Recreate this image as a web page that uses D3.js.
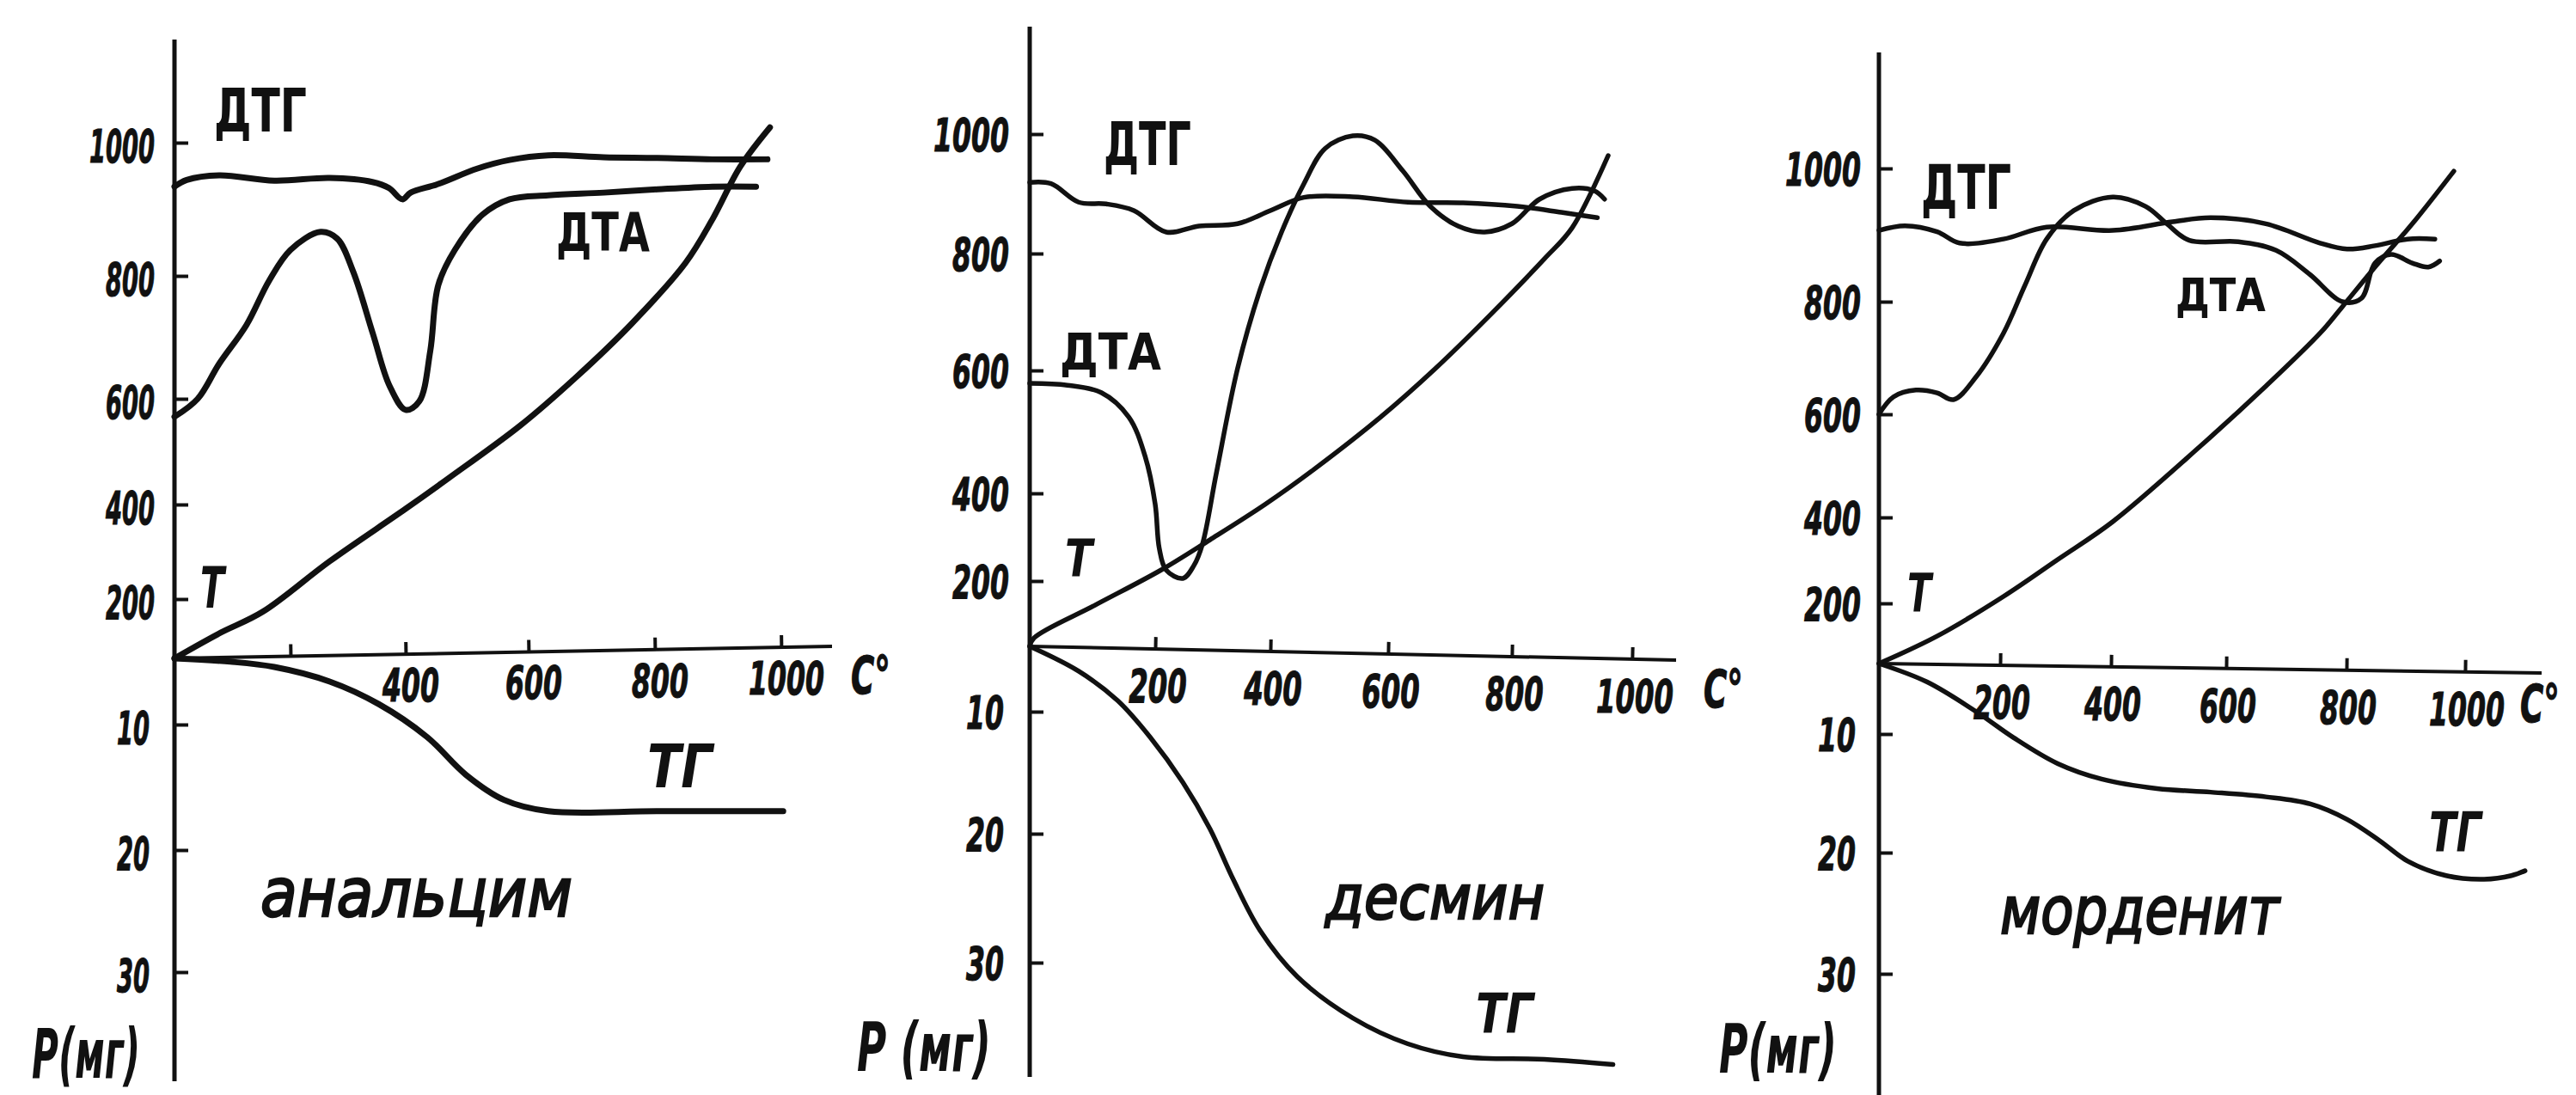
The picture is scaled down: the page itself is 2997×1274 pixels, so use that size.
<!DOCTYPE html>
<html>
<head>
<meta charset="utf-8">
<script src="https://cdn.jsdelivr.net/npm/d3@7"></script>
<style>
  body { margin: 0; background: #fff; }
  svg { display: block; }
</style>
</head>
<body>
<svg id="chart"></svg>
<script>
// tick values (the drawing's axes are hand-drawn, so the scales are piecewise)
var tempDomain = [0, 200, 400, 600, 800, 1000];
var massDomain = [0, 10, 20, 30];
var tempTicks = [200, 400, 600, 800, 1000];
var massTicks = [10, 20, 30];
var analcimeXLabels = [400, 600, 800, 1000];
var desmineXLabels = [200, 400, 600, 800, 1000];
var mordeniteXLabels = [200, 400, 600, 800, 1000];

var mineralNames = ["анальцим", "десмин", "морденит"];
var massLabels = ["Р(мг)", "Р (мг)", "Р(мг)"];

// curves: [temperature °C, value on the left axis]
var analcimeDTG = [[0,934],[21,944],[77,951],[172,943],[268,947],[342,941],[371,932],[394,915],[408,925],[453,938],[516,961],[569,974],[631,981],[719,978],[804,977],[891,975],[978,975]];
var analcimeDTA = [[0,566],[40,600],[77,657],[124,720],[163,792],[200,839],[252,866],[281,856],[309,806],[343,706],[372,621],[400,579],[422,595],[440,678],[453,785],[480,839],[525,892],[569,915],[631,921],[719,925],[804,930],[891,934],[960,934]];
var analcimeT = [[0,0],[77,84],[152,157],[268,280],[400,391],[470,450],[587,550],[675,635],[761,720],[848,819],[891,885],[935,964],[982,1023]];
var analcimeTG = [[0,0],[96,0.5],[172,1.3],[268,3.5],[353,6.9],[435,11.0],[498,14.0],[560,16.0],[631,16.9],[804,16.9],[1003,16.9]];

var desmineDTG = [[0,919],[34,917],[78,886],[122,883],[166,872],[219,836],[276,846],[343,850],[400,872],[457,894],[540,895],[632,886],[721,885],[809,879],[882,869],[942,860]];
var desmineDTA = [[0,579],[60,576],[114,564],[158,524],[184,460],[200,375],[207,275],[219,225],[248,206],[267,235],[282,284],[306,432],[343,603],[382,738],[419,836],[457,917],[493,976],[540,997],[577,990],[624,938],[668,879],[713,846],[756,836],[800,850],[846,891],[900,909],[937,905],[954,891]];
var desmineT = [[0,0],[7,26],[104,126],[210,225],[295,294],[391,375],[474,439],[587,524],[676,603],[764,694],[854,791],[900,843],[960,964]];
var desmineTG = [[0,0],[78,3.8],[140,8.3],[192,12.1],[248,15.8],[295,19.6],[334,23.4],[382,27.5],[446,31.1],[540,34.3],[632,36.3],[721,37.3],[854,37.5],[968,37.9]];

var mordeniteDTG = [[0,907],[43,914],[96,905],[133,888],[206,894],[284,912],[403,907],[507,920],[573,926],[666,917],[756,888],[801,879],[848,884],[903,894],[949,894]];
var mordeniteDTA = [[0,600],[24,631],[61,643],[96,638],[123,626],[160,666],[206,744],[245,825],[284,894],[333,937],[403,957],[460,943],[497,917],[536,892],[620,890],[683,877],[739,841],[793,800],[825,805],[848,858],[875,871],[911,858],[938,852],[957,861]];
var mordeniteT = [[0,0],[96,91],[206,216],[304,302],[403,390],[554,537],[666,650],[756,744],[793,791],[848,852],[911,917],[981,996]];
var mordeniteTG = [[0,0],[79,2.6],[160,6.8],[224,10.3],[304,12.5],[383,13.8],[480,14.6],[573,14.9],[666,15.3],[740,15.9],[801,17.2],[856,19.0],[903,20.7],[968,21.9],[1032,22.2],[1078,21.9],[1101,21.5]];

// page layout of each panel (pixels)
var layouts = [
  {
    xPx: [203,338,472,615,762,909], tPx: [766,697,587,464,321,166], mPx: [766,843,989,1131],
    top: 46, bottom: 1258, xEnd: 968, tilt: -14, curveW: 7, axisW: 5,
    yLabelRight: 180, yLabelDy: 23, digitW: 19, xLabelDx: 6, xLabelDy: 55, xDigitW: 22,
    unit: [990, 807],
    dtg: [249,153,108,70], dta: [647,292,109,62], t: [233,707,28,66], tg: [753,916,76,70],
    name: [303,1066,363,78], mass: [37,1254,126,80]
  },
  {
    xPx: [1198,1344,1478,1615,1759,1899], tPx: [752,676,574,431,295,156], mPx: [752,828,970,1120],
    top: 31, bottom: 1253, xEnd: 1950, tilt: 16, curveW: 5.5, axisW: 5,
    yLabelRight: 1174, yLabelDy: 20, digitW: 22, xLabelDx: 3, xLabelDy: 62, xDigitW: 22.5,
    unit: [1982, 823],
    dtg: [1284,192,102,70], dta: [1233,430,118,58], t: [1239,671,32,60], tg: [1717,1202,67,64],
    name: [1542,1069,255,72], mass: [997,1246,156,78]
  },
  {
    xPx: [2186,2327,2456,2590,2730,2868], tPx: [772,702,602,482,351,196], mPx: [772,854,992,1133],
    top: 61, bottom: 1274, xEnd: 2957, tilt: 11, curveW: 5.5, axisW: 5,
    yLabelRight: 2165, yLabelDy: 20, digitW: 22, xLabelDx: 2, xLabelDy: 62, xDigitW: 22,
    unit: [2932, 840],
    dtg: [2235,243,105,72], dta: [2531,362,105,54], t: [2219,712,28,62], tg: [2826,991,61,64],
    name: [2327,1086,325,76], mass: [2000,1248,137,78]
  }
];

var panels = [
  { dtg: analcimeDTG, dta: analcimeDTA, t: analcimeT, tg: analcimeTG, xLabels: analcimeXLabels },
  { dtg: desmineDTG, dta: desmineDTA, t: desmineT, tg: desmineTG, xLabels: desmineXLabels },
  { dtg: mordeniteDTG, dta: mordeniteDTA, t: mordeniteT, tg: mordeniteTG, xLabels: mordeniteXLabels }
];

var W = 2997, H = 1274, ink = "#111";
var fontStack = "'DejaVu Sans', 'Liberation Sans', sans-serif";

var svg = d3.select("#chart").attr("width", W).attr("height", H);
svg.append("rect").attr("width", W).attr("height", H).attr("fill", "#fff");

// text squeezed to a measured width, like the narrow drafting letters of the original
function putText(g, str, x, y, size, width, bold, italic, thicken) {
  return g.append("text")
    .attr("x", x).attr("y", y)
    .attr("font-family", fontStack)
    .attr("font-size", size)
    .attr("font-weight", bold ? "bold" : "normal")
    .attr("font-style", italic ? "italic" : "normal")
    .attr("fill", ink)
    .attr("stroke", thicken ? ink : "none")
    .attr("stroke-width", thicken || 0)
    .attr("textLength", width)
    .attr("lengthAdjust", "spacingAndGlyphs")
    .text(str);
}

panels.forEach(function(p, i) {
  var L = layouts[i];
  var g = svg.append("g");

  var x = d3.scaleLinear().domain(tempDomain).range(L.xPx);
  var yT = d3.scaleLinear().domain(tempDomain).range(L.tPx);
  var yM = d3.scaleLinear().domain(massDomain).range(L.mPx);
  var x0 = x(0), y0 = yT(0);

  // vertical axis
  g.append("line")
    .attr("x1", x0).attr("x2", x0).attr("y1", L.top).attr("y2", L.bottom)
    .attr("stroke", ink).attr("stroke-width", L.axisW);

  g.append("g").attr("transform", "translate(" + x0 + ",0)")
    .call(d3.axisRight(yT).tickValues(tempTicks).tickSize(16).tickFormat(""))
    .call(function(a) { a.select(".domain").remove(); a.selectAll("line").attr("stroke", ink).attr("stroke-width", 4); });

  g.append("g").attr("transform", "translate(" + x0 + ",0)")
    .call(d3.axisRight(yM).tickValues(massTicks).tickSize(16).tickFormat(""))
    .call(function(a) { a.select(".domain").remove(); a.selectAll("line").attr("stroke", ink).attr("stroke-width", 4); });

  tempTicks.forEach(function(v) {
    var s = String(v), w = s.length * L.digitW;
    putText(g, s, L.yLabelRight - w, yT(v) + L.yLabelDy, 54, w, true, true, 1.2);
  });
  massTicks.forEach(function(v) {
    var s = String(v), w = s.length * L.digitW;
    putText(g, s, L.yLabelRight - w - 6, yM(v) + L.yLabelDy, 54, w, true, true, 1.2);
  });

  // horizontal axis, slightly tilted as in the scan
  var dx = L.xEnd - x0;
  var ang = Math.atan2(L.tilt, dx) * 180 / Math.PI;
  var xa = g.append("g").attr("transform", "rotate(" + ang + "," + x0 + "," + y0 + ") translate(0," + y0 + ")");
  xa.append("line").attr("x1", x0).attr("x2", x0 + Math.hypot(dx, L.tilt)).attr("y1", 0).attr("y2", 0)
    .attr("stroke", ink).attr("stroke-width", L.axisW);
  xa.call(d3.axisTop(x).tickValues(tempTicks).tickSize(14).tickFormat(""))
    .call(function(a) { a.select(".domain").remove(); a.selectAll("line").attr("stroke", ink).attr("stroke-width", 4); });

  p.xLabels.forEach(function(v) {
    var s = String(v), w = s.length * L.xDigitW;
    var cx = x(v) + L.xLabelDx;
    var ly = y0 + L.tilt * (x(v) - x0) / dx + L.xLabelDy;
    putText(g, s, cx - w / 2, ly, 54, w, true, true, 1.2);
  });

  // unit "C°", narrowed with a transform instead of textLength
  g.append("text")
    .attr("transform", "translate(" + L.unit[0] + "," + L.unit[1] + ") scale(0.62,1)")
    .attr("font-family", fontStack).attr("font-size", 60)
    .attr("font-weight", "bold").attr("font-style", "italic")
    .attr("fill", ink).attr("stroke", ink).attr("stroke-width", 1.2)
    .text("C°");

  // curves
  var lineT = d3.line().x(function(d) { return x(d[0]); }).y(function(d) { return yT(d[1]); })
    .curve(d3.curveCatmullRom.alpha(0.5));
  var lineM = d3.line().x(function(d) { return x(d[0]); }).y(function(d) { return yM(d[1]); })
    .curve(d3.curveCatmullRom.alpha(0.5));

  [p.dtg, p.dta, p.t].forEach(function(c) {
    g.append("path").attr("d", lineT(c)).attr("fill", "none").attr("stroke", ink)
      .attr("stroke-width", L.curveW).attr("stroke-linecap", "round").attr("stroke-linejoin", "round");
  });
  g.append("path").attr("d", lineM(p.tg)).attr("fill", "none").attr("stroke", ink)
    .attr("stroke-width", L.curveW).attr("stroke-linecap", "round").attr("stroke-linejoin", "round");

  // curve labels
  putText(g, "ДТГ", L.dtg[0], L.dtg[1], L.dtg[3], L.dtg[2], true, false);
  putText(g, "ДТА", L.dta[0], L.dta[1], L.dta[3], L.dta[2], true, false);
  putText(g, "Т", L.t[0], L.t[1], L.t[3], L.t[2], true, true);
  putText(g, "ТГ", L.tg[0], L.tg[1], L.tg[3], L.tg[2], true, true);
  putText(g, mineralNames[i], L.name[0], L.name[1], L.name[3], L.name[2], false, true, 2.5);
  putText(g, massLabels[i], L.mass[0], L.mass[1], L.mass[3], L.mass[2], true, true);
});
</script>
</body>
</html>
